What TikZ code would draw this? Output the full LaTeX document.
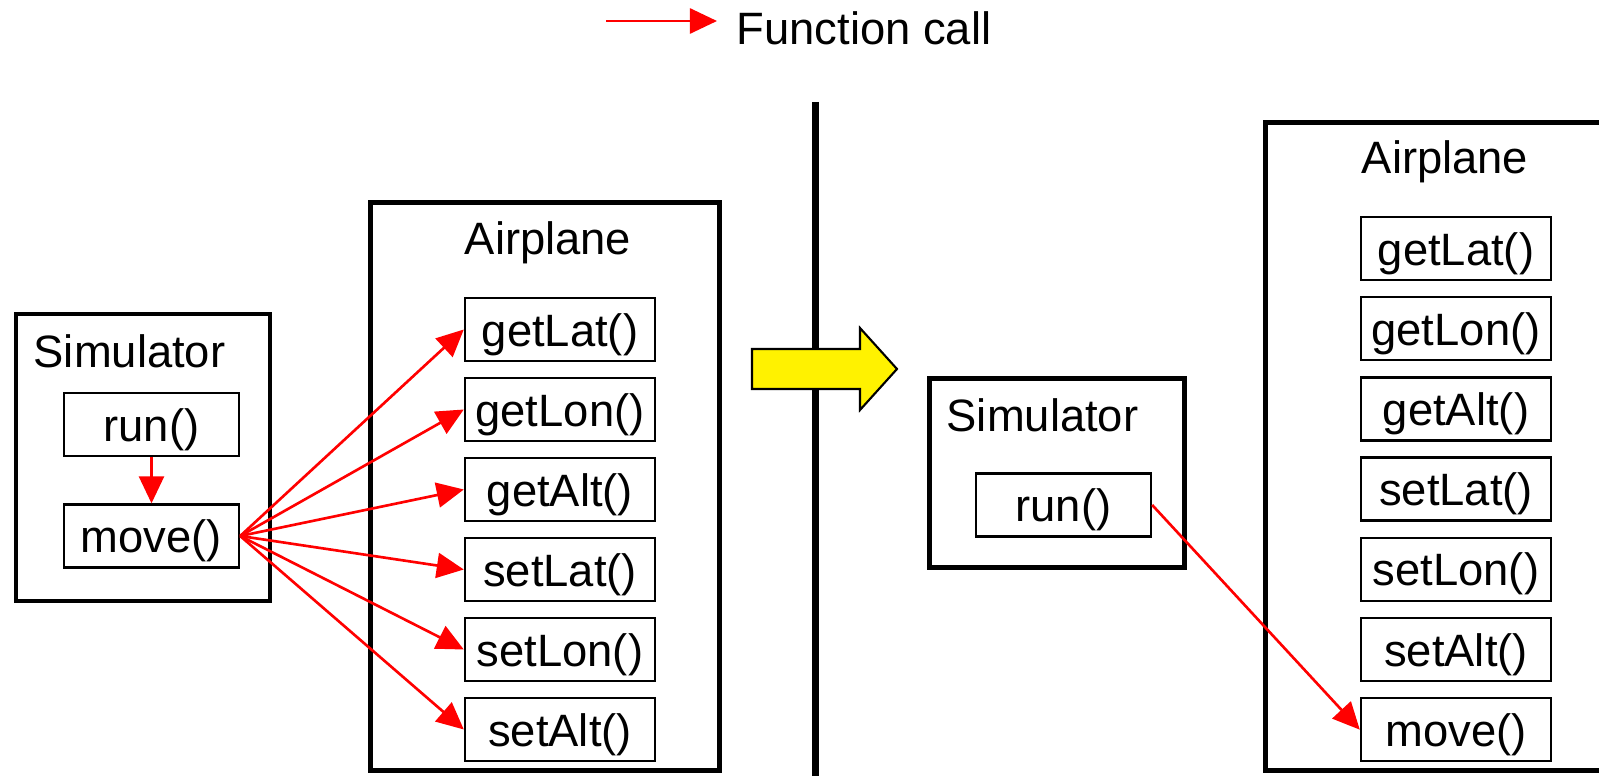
\documentclass[tikz,border=0pt]{standalone}
\usepackage{fontspec}
\setmainfont{Liberation Sans}
\usepackage{tikz}
\usetikzlibrary{calc}
\usetikzlibrary{arrows.meta}
\usetikzlibrary{positioning}
\tikzset{M/.style={draw=black,line width=0.65pt,minimum width=1.9cm,minimum height=0.63cm,inner sep=0pt,text height=0.33cm,text depth=0cm}}
\tikzset{C/.style={draw=black,line width=1.3pt,inner sep=0pt}}
\tikzset{T/.style={inner sep=0pt}}
\tikzset{call/.style={red,line width=0.75pt,-{Triangle[length=0.27cm,width=0.25cm]}}}

\begin{document}
\begin{tikzpicture}[x=0.01cm,y=-0.01cm,font=\fontsize{12.9}{15}\selectfont]
\useasboundingbox (0,0) rectangle (1599,776);

% legend
\coordinate (k0) at (606,21);
\coordinate (k1) at (717,21);
\draw[call] (k0) -- (k1);
\node[T,anchor=base west] (key) at (736,45) {Function call};

% divider
\coordinate (d0) at (815.5,102);
\coordinate (d1) at (815.5,790);
\draw[line width=2pt] (d0) -- (d1);

% before
\node[C,minimum width=2.54cm,minimum height=2.87cm] (simL) at (143,457.5) {};
\node[T,anchor=base west] (simLt) at (33,368) {Simulator};
\node[M,minimum width=1.75cm] (runL) at (151.5,424.5) {run()};
\node[M,minimum width=1.75cm] (moveL) at (151.5,536) {move()};
\draw[call] (runL) -- (moveL);

\node[C,minimum width=3.49cm,minimum height=5.68cm] (airL) at (545,486.5) {};
\node[T,anchor=base] (airLt) at (548,255) {Airplane};
\foreach \m [count=\i from 0] in {getLat,getLon,getAlt,setLat,setLon,setAlt}
  {
 \node[M] (l\m) at (560,{329.5+80*\i}) {\m()};
 }

\foreach \m in {getLat,getLon,getAlt,setLat,setLon,setAlt}
  {
 \draw[call] (moveL.east) -- (l\m.west);
 }

\draw[fill=yellow,line width=0.6pt] (752,349) -- (860,349) -- (860,328) -- (897,369) -- (860,410) -- (860,389) -- (752,389) -- cycle;

% after
\node[C,minimum width=2.55cm,minimum height=1.89cm] (simR) at (1057,473) {};
\node[T,anchor=base west] (simRt) at (946,432) {Simulator};
\node[M,minimum width=1.75cm] (runR) at (1063.5,505) {run()};

\node[C,minimum width=3.75cm,minimum height=6.48cm] (airR) at (1453,446.5) {};
\node[T,anchor=base] (airRt) at (1445,174) {Airplane};
\foreach \m [count=\i from 0] in {getLat,getLon,getAlt,setLat,setLon,setAlt,move}
  {
 \node[M] (r\m) at (1456,{248.5+80.2*\i}) {\m()};
 }

\draw[call] (runR.east) -- (rmove.west);

\end{tikzpicture}
\end{document}
